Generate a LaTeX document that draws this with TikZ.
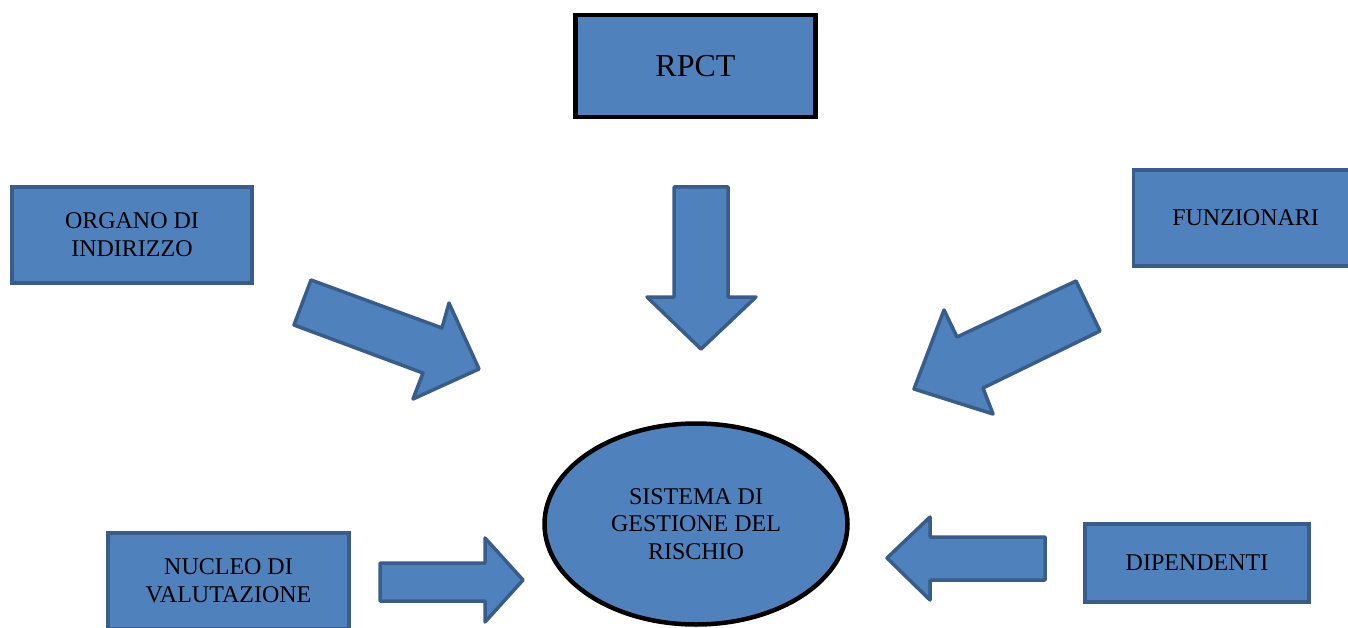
\documentclass[tikz,border=0pt]{standalone}
\usepackage{fontspec}
\setmainfont{Liberation Serif}
\usetikzlibrary{shapes.geometric}
\definecolor{boxblue}{HTML}{4F81BD}
\definecolor{boxedge}{HTML}{385D8A}
\tikzstyle{box} = [rectangle, draw=boxedge, line width=3.5pt, fill=boxblue, align=center, inner sep=0pt, font=\fontsize{24}{28}\selectfont]
\tikzstyle{topbox} = [box, draw=black, line width=4.5pt, font=\fontsize{32}{36}\selectfont]
\tikzstyle{core} = [ellipse, draw=black, line width=4.5pt, fill=boxblue, align=center, inner sep=0pt, font=\fontsize{24}{27.5}\selectfont]
\tikzstyle{fatarrow} = [draw=boxedge, line width=3.5pt, fill=boxblue, line join=round]

\begin{document}
\begin{tikzpicture}[x=1pt, y=-1pt]
    \useasboundingbox (0,0) rectangle (1348,628);
    \clip (0,0) rectangle (1348,628);

    % RPCT
    \node (rpct) [topbox, minimum width=240pt, minimum height=102pt] at (695.5,66) {RPCT};

    % Organo di indirizzo
    \node (organo) [box, minimum width=240pt, minimum height=96pt] at (132,235) {ORGANO DI\\INDIRIZZO};

    % Funzionari (runs off the right edge)
    \node (funz) [box, anchor=west, minimum height=96pt, inner xsep=39pt, text width=200pt, align=left] at (1131.5,218) {FUNZIONARI};

    % Nucleo di valutazione
    \node (nucleo) [box, minimum width=241pt, minimum height=96pt] at (228.5,581) {NUCLEO DI\\VALUTAZIONE};

    % Dipendenti
    \node (dip) [box, minimum width=224pt, minimum height=78pt] at (1197,563) {DIPENDENTI};

    % Sistema di gestione
    \node (sistema) [core, minimum width=303pt, minimum height=201pt] at (696,524) {SISTEMA DI\\GESTIONE DEL\\RISCHIO};

    % Arrows
    \draw [fatarrow] (674,187) -- (728,187) -- (728,297) -- (756,297) -- (701,349) -- (647,297) -- (674,297) -- cycle;
    \draw [fatarrow] (311,280) -- (442,328) -- (449,303) -- (479,369) -- (413,399) -- (423,373) -- (294,325) -- cycle;
    \draw [fatarrow] (1076,281) -- (957,337) -- (944,310) -- (914,389) -- (993,414) -- (983,388) -- (1100,331) -- cycle;
    \draw [fatarrow] (380,563) -- (485,563) -- (485,538) -- (523,580) -- (485,622) -- (485,601) -- (380,601) -- cycle;
    \draw [fatarrow] (1045,537) -- (930,537) -- (930,517) -- (887,558) -- (930,600) -- (930,580) -- (1045,580) -- cycle;
\end{tikzpicture}
\end{document}
